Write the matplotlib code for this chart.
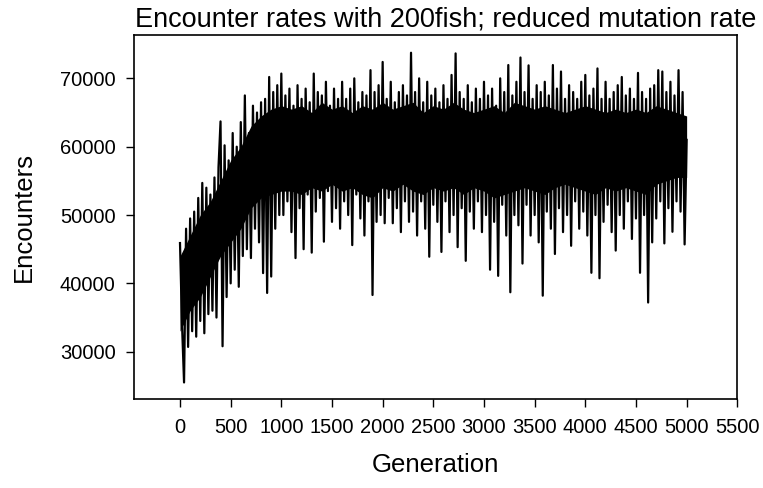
import matplotlib
matplotlib.use("Agg")
import matplotlib.pyplot as plt
import numpy as np

plt.rcParams['font.family'] = ['Liberation Sans', 'DejaVu Sans']

# Generation axis (every 20 generations, 0..5000)
generations = list(range(0, 5001, 20))

# Encounter values (estimated, high/low swings of the noisy trace)
early = [45900, 34000, 25500, 48000, 30700, 49500, 33000, 50500, 32200, 52500,
         34500, 54700, 32700, 54000, 35500, 53000, 36000, 55500, 35000, 57000,
         63700, 30800, 60200, 38000, 58000, 40000, 62000, 42000, 60000, 39500,
         63600, 44000, 67500, 45000, 62000, 43700, 66000, 48000, 65000, 46000,
         66500, 41500, 67000, 38600, 70200, 41000, 68000, 48000, 69000, 50000]
late = [70700, 50000, 67500, 52000, 68500, 47500, 66000, 43700, 69000, 51000,
        67000, 45000, 68500, 53000, 66500, 44500, 70700, 50500, 68000, 52500,
        67500, 46100, 69500, 53500, 66000, 49000, 68500, 51000, 67000, 48000,
        69500, 52000, 67000, 50000, 68500, 45600, 70000, 53000, 66500, 49500,
        68000, 47000, 67500, 52000, 71200, 38300, 68000, 49000, 69000, 50000,
        72400, 48800, 67000, 52500, 69500, 48800, 66500, 51000, 68000, 47500,
        69000, 52000, 67500, 49000, 73750, 50500, 68000, 47000, 70000, 52000,
        66500, 48000, 69500, 43900, 67500, 51500, 68500, 49000, 66500, 44600,
        69000, 52000, 67000, 47500, 70500, 50000, 73650, 45300, 68000, 51000,
        67000, 43300, 69000, 50500, 66500, 48000, 68500, 52000, 67000, 47500,
        69500, 50000, 67500, 42000, 68500, 49000, 66000, 41100, 70000, 51500,
        68000, 47000, 71950, 38700, 67500, 50000, 69500, 48500, 73050, 42900,
        68000, 51500, 71900, 47000, 67000, 50000, 69000, 46000, 68000, 38200,
        69500, 50500, 67500, 48000, 71950, 44300, 68500, 51000, 71000, 47500,
        67000, 50000, 69000, 45500, 68000, 52000, 67000, 48000, 69500, 50500,
        70500, 47000, 67500, 41550, 68500, 50000, 71450, 40750, 67000, 49000,
        69500, 51500, 67000, 47500, 68000, 44800, 69000, 50000, 70200, 48000,
        67500, 52000, 68500, 46500, 67000, 49500, 70800, 41550, 68000, 50000,
        67000, 37200, 68500, 46000, 69000, 49500, 71200, 52000, 71000, 45850,
        68000, 51000, 69500, 47550, 67500, 52000, 71200, 50500, 68000, 45700,
        61000]
encounters = early + late

# Dense core of the trace (where the line fills solid black), read every 100 generations
core_gen = list(range(0, 5001, 100))
core_low = [33000, 36000, 38000, 41000, 44000, 46000, 48000, 51000, 52500, 53000,
            53500, 53500, 53000, 54000, 53500, 54500, 53500, 54000, 53000, 52500,
            54000, 53500, 54500, 53500, 53000, 54000, 53500, 54000, 53000, 54000,
            53500, 52500, 53000, 53500, 54000, 53500, 53000, 54000, 54500, 54000,
            53500, 53000, 54000, 53500, 54000, 53500, 53000, 54500, 55000, 55500,
            55500]
core_high = [44000, 47000, 50000, 52000, 55000, 58000, 60000, 63000, 64500, 65500,
             66000, 65500, 66000, 65000, 66500, 65500, 66000, 65000, 66000, 65500,
             66500, 65500, 66000, 66500, 65000, 66000, 65500, 66500, 65500, 65000,
             65500, 66000, 65000, 66500, 66000, 65500, 66000, 65500, 65000, 65500,
             66000, 65500, 65000, 65500, 65000, 65500, 65000, 66000, 65500, 65000,
             64500]

x_ticks = list(range(0, 5501, 500))
y_ticks = [30000, 40000, 50000, 60000, 70000]

fig = plt.figure(figsize=(7.63, 4.88), dpi=100)
ax = fig.add_axes([134.3/763, 1-399/488, (737.3-134.3)/763, (399-35.3)/488])
ax.fill_between(core_gen, core_low, core_high, color='black', linewidth=0)
ax.plot(generations, encounters, color='black', linewidth=1.6)
ax.set_xlim(-451, 5500)
ax.set_ylim(23080, 76300)
ax.set_xticks(x_ticks)
ax.set_xticklabels([str(t) for t in x_ticks])
ax.set_yticks(y_ticks)
ax.set_yticklabels([str(t) for t in y_ticks])
ax.tick_params(axis='both', direction='out', length=5.5, width=1, labelsize=14.5, pad=8, colors='black')
for s in ax.spines.values():
    s.set_linewidth(1.2)
    s.set_color('black')
ax.set_xlabel('Generation', fontsize=18.5, labelpad=12)
ax.set_ylabel('Encounters', fontsize=18.5, labelpad=17)
ax.set_title('Encounter rates with 200fish; reduced mutation rate', fontsize=19.5, pad=6, x=0.517)
fig.savefig('out.png', dpi=100)
